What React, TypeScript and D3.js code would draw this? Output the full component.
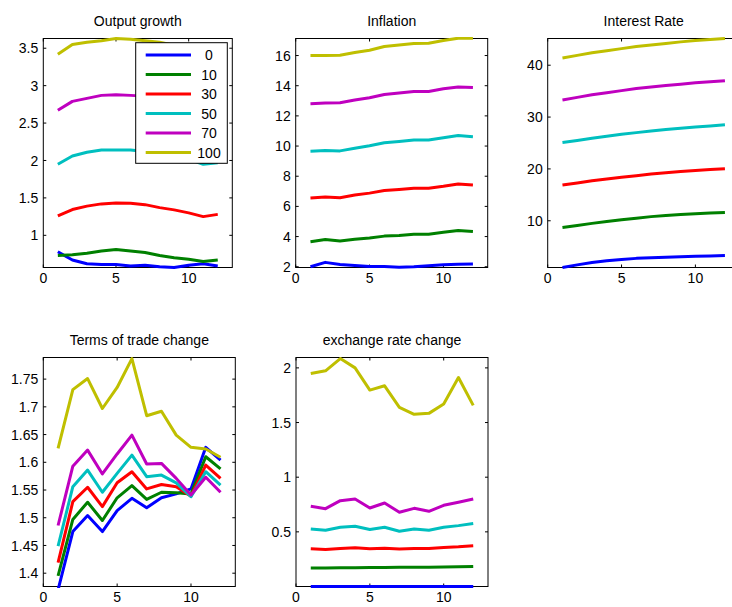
import React from 'react'
import * as d3 from 'd3'

// horizon steps shared by every panel
const steps = [1, 2, 3, 4, 5, 6, 7, 8, 9, 10, 11, 12]
const seriesNames = ['0', '10', '30', '50', '70', '100']
const seriesColors = ['#0000ff', '#008000', '#ff0000', '#00bfbf', '#bf00bf', '#bfbf00']
const xTicks = [0, 5, 10]

// Output growth (one row per series, in seriesNames order)
const outputGrowth = [
  [0.78, 0.67, 0.62, 0.61, 0.61, 0.59, 0.6, 0.58, 0.57, 0.6, 0.62, 0.59],
  [0.73, 0.74, 0.76, 0.79, 0.81, 0.79, 0.77, 0.73, 0.7, 0.68, 0.65, 0.67],
  [1.26, 1.345, 1.39, 1.42, 1.433, 1.43, 1.41, 1.37, 1.34, 1.3, 1.25, 1.28],
  [1.95, 2.06, 2.11, 2.14, 2.14, 2.14, 2.12, 2.1, 2.06, 2.02, 1.95, 1.97],
  [2.67, 2.79, 2.83, 2.87, 2.88, 2.87, 2.86, 2.83, 2.79, 2.75, 2.7, 2.68],
  [3.42, 3.55, 3.58, 3.6, 3.63, 3.62, 3.6, 3.58, 3.54, 3.5, 3.46, 3.44],
]

const inflation = [
  [2.0, 2.29, 2.15, 2.08, 2.02, 2.01, 1.96, 2.0, 2.07, 2.13, 2.17, 2.19],
  [3.66, 3.8, 3.7, 3.82, 3.9, 4.03, 4.07, 4.15, 4.16, 4.28, 4.41, 4.34],
  [6.56, 6.62, 6.58, 6.75, 6.88, 7.05, 7.12, 7.2, 7.2, 7.33, 7.49, 7.42],
  [9.66, 9.7, 9.68, 9.85, 10.02, 10.22, 10.3, 10.4, 10.4, 10.55, 10.7, 10.62],
  [12.81, 12.85, 12.87, 13.05, 13.2, 13.42, 13.52, 13.62, 13.62, 13.8, 13.92, 13.88],
  [16.0, 16.0, 16.02, 16.2, 16.35, 16.6, 16.7, 16.8, 16.82, 17.0, 17.15, 17.15],
]

const interestRate = [
  [1.0, 1.5, 1.95, 2.3, 2.55, 2.75, 2.85, 2.95, 3.05, 3.15, 3.22, 3.3],
  [8.7, 9.1, 9.5, 9.85, 10.2, 10.5, 10.8, 11.0, 11.2, 11.35, 11.5, 11.6],
  [16.9, 17.3, 17.7, 18.05, 18.4, 18.7, 19.0, 19.25, 19.5, 19.7, 19.9, 20.05],
  [25.1, 25.5, 25.9, 26.3, 26.7, 27.0, 27.3, 27.6, 27.85, 28.1, 28.3, 28.5],
  [33.3, 33.8, 34.3, 34.7, 35.1, 35.5, 35.8, 36.1, 36.35, 36.6, 36.8, 37.0],
  [41.4, 41.9, 42.4, 42.8, 43.2, 43.6, 43.9, 44.2, 44.5, 44.75, 44.95, 45.15],
]

const termsOfTrade = [
  [1.37, 1.475, 1.504, 1.475, 1.513, 1.535, 1.518, 1.536, 1.543, 1.552, 1.627, 1.604],
  [1.395, 1.497, 1.528, 1.495, 1.536, 1.558, 1.533, 1.546, 1.545, 1.543, 1.61, 1.588],
  [1.419, 1.529, 1.555, 1.52, 1.563, 1.583, 1.552, 1.56, 1.556, 1.539, 1.595, 1.571],
  [1.449, 1.556, 1.586, 1.546, 1.58, 1.613, 1.574, 1.577, 1.563, 1.538, 1.583, 1.559],
  [1.486, 1.593, 1.622, 1.579, 1.615, 1.649, 1.597, 1.598, 1.571, 1.541, 1.573, 1.546],
  [1.625, 1.731, 1.751, 1.697, 1.735, 1.787, 1.684, 1.692, 1.649, 1.627, 1.624, 1.609],
]

const exchangeRate = [
  [0, 0, 0, 0, 0, 0, 0, 0, 0, 0, 0, 0],
  [0.17, 0.17, 0.171, 0.172, 0.173, 0.174, 0.175, 0.176, 0.177, 0.179, 0.181, 0.184],
  [0.345, 0.339, 0.348, 0.354, 0.345, 0.351, 0.342, 0.348, 0.348, 0.357, 0.363, 0.372],
  [0.527, 0.515, 0.542, 0.551, 0.521, 0.542, 0.506, 0.527, 0.515, 0.542, 0.557, 0.576],
  [0.734, 0.712, 0.785, 0.8, 0.718, 0.764, 0.679, 0.715, 0.688, 0.743, 0.77, 0.8],
  [1.948, 1.973, 2.085, 2.0, 1.797, 1.836, 1.639, 1.575, 1.584, 1.669, 1.912, 1.657],
]

const W = 732
const H = 607
const FONT = '"Liberation Sans", Arial, Helvetica, sans-serif'

const panels = [
  { title: 'Output growth', data: outputGrowth, yDomain: [0.57, 3.63], yTicks: [1, 1.5, 2, 2.5, 3, 3.5], box: { x: 43.3, y: 38.5, w: 189, h: 229 }, legend: true },
  { title: 'Inflation', data: inflation, yDomain: [1.95, 17.13], yTicks: [2, 4, 6, 8, 10, 12, 14, 16], box: { x: 295.7, y: 38.5, w: 192, h: 229 } },
  { title: 'Interest Rate', data: interestRate, yDomain: [0.99, 45.15], yTicks: [10, 20, 30, 40], box: { x: 547.7, y: 38.5, w: 192, h: 229 } },
  { title: 'Terms of trade change', data: termsOfTrade, yDomain: [1.376, 1.789], yTicks: [1.4, 1.45, 1.5, 1.55, 1.6, 1.65, 1.7, 1.75], box: { x: 43.3, y: 357.5, w: 192, h: 229 } },
  { title: 'exchange rate change', data: exchangeRate, yDomain: [0, 2.095], yTicks: [0.5, 1, 1.5, 2], box: { x: 296, y: 357.5, w: 192, h: 229 } },
]

type Box = { x: number; y: number; w: number; h: number }

function Panel({ idx, title, data, yDomain, yTicks, box, legend }: {
  idx: number; title: string; data: number[][]; yDomain: number[]; yTicks: number[]; box: Box; legend?: boolean
}) {
  const x = d3.scaleLinear().domain([0, 13]).range([box.x, box.x + box.w])
  const y = d3.scaleLinear().domain(yDomain).range([box.y + box.h, box.y])
  const line = d3.line<number>().x((_, i) => x(steps[i])).y(d => y(d))
  const tl = 3
  const clipId = `clip-${idx}`

  return (
    <g>
      <defs>
        <clipPath id={clipId}>
          <rect x={box.x - 1.5} y={box.y - 1.5} width={box.w + 3} height={box.h + 3} />
        </clipPath>
      </defs>
      <rect x={box.x} y={box.y} width={box.w} height={box.h} fill="#fff" stroke="#000" strokeWidth={1} />
      {/* ticks inside on all four sides */}
      {xTicks.map(t => (
        <g key={`x${t}`}>
          <line x1={x(t)} x2={x(t)} y1={box.y + box.h} y2={box.y + box.h - tl} stroke="#000" />
          <line x1={x(t)} x2={x(t)} y1={box.y} y2={box.y + tl} stroke="#000" />
          <text x={x(t)} y={box.y + box.h + 15} textAnchor="middle" fontSize={14} fontFamily={FONT} fill="#000">{t}</text>
        </g>
      ))}
      {yTicks.map(t => (
        <g key={`y${t}`}>
          <line x1={box.x} x2={box.x + tl} y1={y(t)} y2={y(t)} stroke="#000" />
          <line x1={box.x + box.w} x2={box.x + box.w - tl} y1={y(t)} y2={y(t)} stroke="#000" />
          <text x={box.x - 5} y={y(t)} dy="0.36em" textAnchor="end" fontSize={14} fontFamily={FONT} fill="#000">{d3.format('~g')(t)}</text>
        </g>
      ))}
      <g clipPath={`url(#${clipId})`}>
        {data.map((s, i) => (
          <path key={i} d={line(s) || ''} fill="none" stroke={seriesColors[i]} strokeWidth={3} strokeLinejoin="round" />
        ))}
      </g>
      <text x={box.x + box.w / 2} y={box.y - 13} textAnchor="middle" fontSize={14} fontFamily={FONT} fill="#000">{title}</text>
      {legend && (
        <g>
          <rect x={135.7} y={42.7} width={91.6} height={120.6} fill="#fff" stroke="#000" strokeWidth={1} />
          {seriesNames.map((n, i) => {
            const ly = 55 + i * 19.5
            return (
              <g key={n}>
                <line x1={145.7} x2={191} y1={ly} y2={ly} stroke={seriesColors[i]} strokeWidth={3} />
                <text x={209} y={ly} dy="0.36em" textAnchor="middle" fontSize={14} fontFamily={FONT} fill="#000">{n}</text>
              </g>
            )
          })}
        </g>
      )}
    </g>
  )
}

export default function App() {
  return (
    <svg width={W} height={H} style={{ position: 'absolute', left: 0, top: 0, background: '#fff' }}>
      <rect width={W} height={H} fill="#fff" />
      {panels.map((p, i) => (
        <Panel key={p.title} idx={i} {...p} />
      ))}
    </svg>
  )
}
